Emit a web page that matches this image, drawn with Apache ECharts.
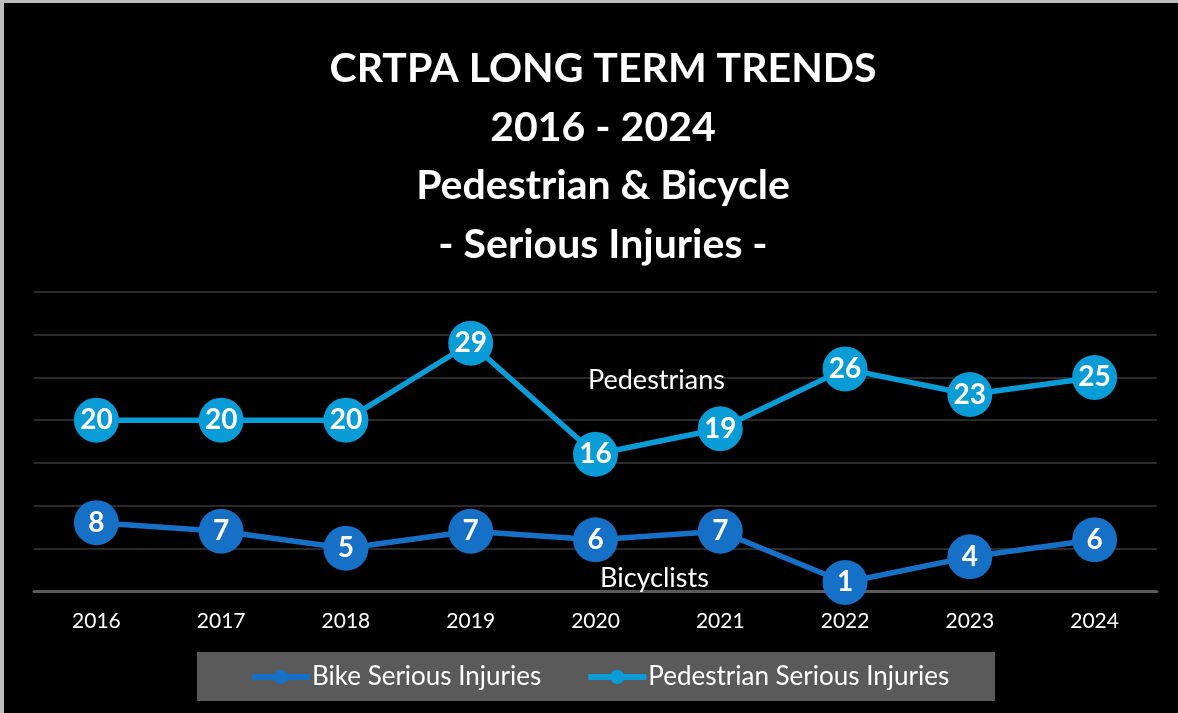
<!DOCTYPE html>
<html>
<head>
<meta charset="utf-8">
<script src="https://cdn.jsdelivr.net/npm/echarts@6/dist/echarts.min.js"></script>
<style>
  html, body { margin: 0; padding: 0; background: #fff; }
  #wrap { width: 1178px; height: 713px; background: #bdbdbd; padding: 3px 0 0 4px; box-sizing: border-box; }
  #main { width: 1174px; height: 710px; background: #000; }
</style>
</head>
<body>
<div id="wrap"><div id="main"></div></div>
<script>
// 年份
const years = ['2016', '2017', '2018', '2019', '2020', '2021', '2022', '2023', '2024']
// 自行车重伤
const bikeInjuries = [8, 7, 5, 7, 6, 7, 1, 4, 6]
// 行人重伤
const pedInjuries = [20, 20, 20, 29, 16, 19, 26, 23, 25]
const titleLines = ['CRTPA LONG TERM TRENDS', '2016 - 2024', 'Pedestrian & Bicycle', '- Serious Injuries -']

const font = 'Lato, "Open Sans", sans-serif'
const bikeColor = '#1670c6'
const pedColor = '#099cd6'

const chart = echarts.init(document.getElementById('main'))

function lineSeries(name, data, color) {
  return {
    name,
    type: 'line',
    data,
    symbol: 'circle',
    symbolSize: 45,
    lineStyle: { width: 5.5, color },
    itemStyle: { color },
    label: {
      show: true,
      position: 'inside',
      color: '#fff',
      fontFamily: font,
      fontWeight: 'bold',
      fontSize: 28,
    },
    z: 3,
  }
}

const option = {
  backgroundColor: '#000',
  animation: false,
  title: {
    text: titleLines.join('\n'),
    left: 594,
    textAlign: 'center',
    top: 32,
    textStyle: {
      color: '#fff',
      fontFamily: font,
      fontWeight: 'bold',
      fontSize: 41,
      lineHeight: 58.5,
    },
  },
  grid: { left: 30, right: 21, top: 289, bottom: 122 },
  xAxis: {
    type: 'category',
    data: years,
    boundaryGap: true,
    axisLine: { lineStyle: { color: '#5a5a5a', width: 3 } },
    axisTick: { show: false },
    axisLabel: { color: '#fff', fontFamily: font, fontSize: 21, margin: 20 },
  },
  yAxis: {
    type: 'value',
    min: 0,
    max: 35,
    interval: 5,
    axisLabel: { show: false },
    axisLine: { show: false },
    axisTick: { show: false },
    splitLine: { lineStyle: { color: '#2a2a2a', width: 2 } },
  },
  legend: {
    left: 240,
    top: 656,
    itemWidth: 58,
    itemHeight: 18,
    itemGap: 44,
    lineStyle: { width: 6 },
    textStyle: { color: '#fff', fontFamily: font, fontSize: 26, padding: [0, 0, 0, -3] },
    data: ['Bike Serious Injuries', 'Pedestrian Serious Injuries'],
  },
  graphic: [
    {
      type: 'rect',
      left: 193,
      top: 649,
      shape: { width: 798, height: 49 },
      style: { fill: '#5a5a5a' },
      z: -1,
    },
    {
      type: 'text',
      left: 584,
      top: 364,
      z: 10,
      style: { text: 'Pedestrians', fill: '#fff', font: '27px ' + font },
    },
    {
      type: 'text',
      left: 596,
      top: 562,
      z: 10,
      style: { text: 'Bicyclists', fill: '#fff', font: '27px ' + font },
    },
  ],
  series: [
    lineSeries('Bike Serious Injuries', bikeInjuries, bikeColor),
    lineSeries('Pedestrian Serious Injuries', pedInjuries, pedColor),
  ],
}

chart.setOption(option)
</script>
</body>
</html>
